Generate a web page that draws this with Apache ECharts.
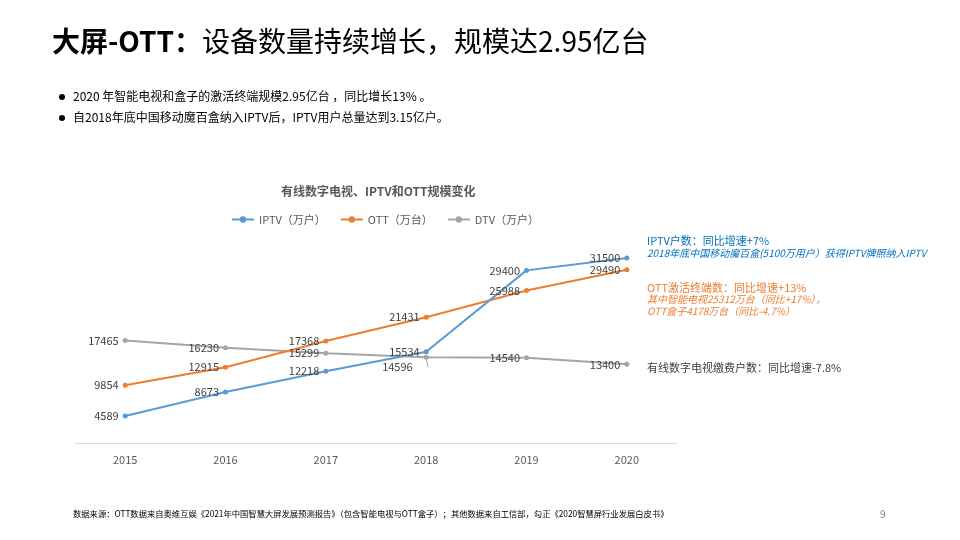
<!DOCTYPE html>
<html><head><meta charset="utf-8">
<script src="https://cdn.jsdelivr.net/npm/echarts@6/dist/echarts.min.js"></script>
<style>html,body{margin:0;padding:0;background:#fff}#c{width:960px;height:540px}</style>
</head><body><div id="c"></div>
<script>
const years = ['2015','2016','2017','2018','2019','2020'];
const iptv = [4589, 8673, 12218, 15534, 29400, 31500];
const ott = [9854, 12915, 17368, 21431, 25988, 29490];
const dtv = [17465, 16230, 15299, 14596, 14540, 13400];
const seriesNames = ['IPTV（万户）', 'OTT（万台）', 'DTV（万户）'];

const FONT = '"Microsoft YaHei","Noto Sans CJK SC","Noto Sans",sans-serif';
const chart = echarts.init(document.getElementById('c'));

function mk(name, data, color, special) {
  return {
    name, type: 'line', data: data.map((v, i) => {
      const o = { value: v };
      if (special && special[i]) Object.assign(o, special[i]);
      return o;
    }),
    symbol: 'circle', symbolSize: 5,
    lineStyle: { color, width: 2 },
    itemStyle: { color },
    label: { show: true, position: 'left', distance: 4, color: '#404040', fontSize: 11, fontFamily: FONT },
    labelLine: { show: false },
    animation: false
  };
}

const txt = (x, y, text, style) => ({ type: 'text', left: x, top: y, style: Object.assign({ text, fontFamily: FONT, fontSize: 11, fill: '#404040' }, style) });

chart.setOption({
  backgroundColor: '#fff',
  animation: false,
  title: {
    text: '有线数字电视、IPTV和OTT规模变化', left: 276, top: 180,
    textStyle: { fontSize: 12, fontWeight: 'bold', color: '#595959', fontFamily: FONT }
  },
  legend: {
    top: 209, left: 226, itemWidth: 22, itemHeight: 8, itemGap: 14,
    data: seriesNames,
    textStyle: { fontSize: 11, color: '#595959', fontFamily: FONT }
  },
  grid: { left: 75, right: 283, top: 237.5, bottom: 97 },
  xAxis: {
    type: 'category', data: years, boundaryGap: true,
    axisLine: { lineStyle: { color: '#D9D9D9' } }, axisTick: { show: false },
    axisLabel: { color: '#595959', fontSize: 11, margin: 11, fontFamily: FONT }
  },
  yAxis: { type: 'value', min: 0, max: 35000, show: false, splitLine: { show: false } },
  series: [
    mk(seriesNames[2], dtv, '#A5A5A5', { 3: {
      label: { position: 'left', offset: [-7, 10] },
      labelLine: { show: true, lineStyle: { color: '#A5A5A5', width: 1 } } } }),
    mk(seriesNames[1], ott, '#ED7D31'),
    mk(seriesNames[0], iptv, '#5B9BD5')
  ],
  graphic: [
    { type: 'text', left: 52, top: 27, style: { rich: {
        b: { fontSize: 28, fontWeight: 'bold', fill: '#000', fontFamily: FONT },
        n: { fontSize: 28, fill: '#000', fontFamily: FONT } },
        text: '{b|大屏-OTT：}{n|设备数量持续增长，规模达2.95亿台}' } },
    { type: 'circle', shape: { cx: 62, cy: 97, r: 3 }, style: { fill: '#000' } },
    { type: 'circle', shape: { cx: 62, cy: 118, r: 3 }, style: { fill: '#000' } },
    txt(73, 90, '2020 年智能电视和盒子的激活终端规模2.95亿台 ，同比增长13% 。', { fill: '#000', fontSize: 12 }),
    txt(73, 111, '自2018年底中国移动魔百盒纳入IPTV后，IPTV用户总量达到3.15亿户。', { fill: '#000', fontSize: 12 }),
    txt(647, 235, 'IPTV户数：同比增速+7%', { fill: '#0070C0' }),
    txt(647, 248, '2018年底中国移动魔百盒(5100万用户）获得IPTV牌照纳入IPTV', { fill: '#0070C0', fontSize: 10, fontStyle: 'italic' }),
    txt(647, 282, 'OTT激活终端数：同比增速+13%', { fill: '#ED7D31' }),
    txt(647, 294, '其中智能电视25312万台（同比+17%），', { fill: '#ED7D31', fontSize: 10, fontStyle: 'italic' }),
    txt(647, 306, 'OTT盒子4178万台（同比-4.7%）', { fill: '#ED7D31', fontSize: 10, fontStyle: 'italic' }),
    txt(647, 362, '有线数字电视缴费户数：同比增速-7.8%', { fill: '#404040' }),
    txt(73, 510, '数据来源：OTT数据来自奥维互娱《2021年中国智慧大屏发展预测报告》（包含智能电视与OTT盒子）；其他数据来自工信部，勾正《2020智慧屏行业发展白皮书》', { fontSize: 8.3, fill: '#000' }),
    txt(880, 509, '9', { fontSize: 10, fill: '#7F7F7F' })
  ]
});
</script></body></html>
